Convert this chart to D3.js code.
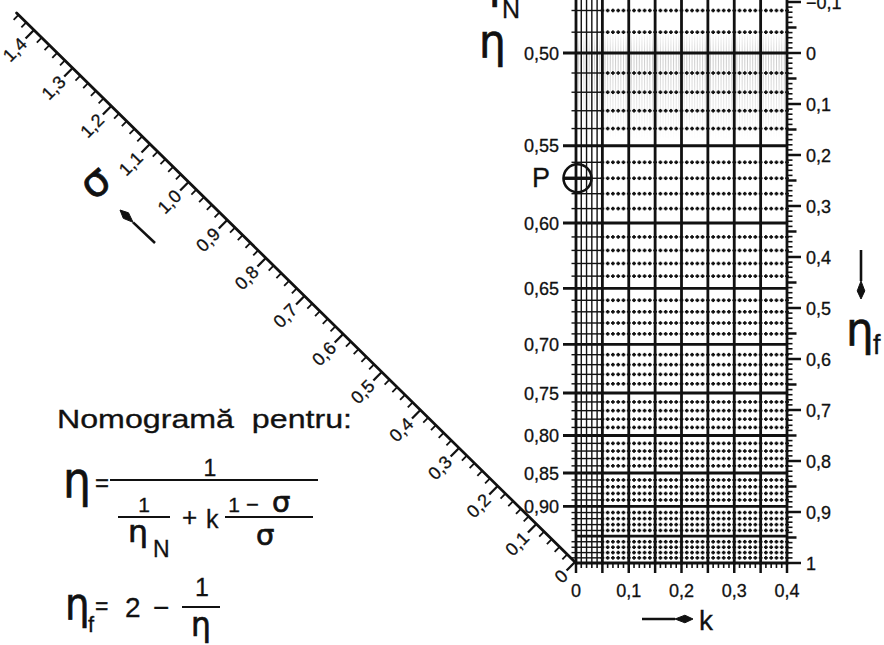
<!DOCTYPE html>
<html>
<head>
<meta charset="utf-8">
<script src="https://cdn.jsdelivr.net/npm/d3@7"></script>
<style>
  html, body { margin: 0; padding: 0; background: #fff; }
  svg { display: block; }
  svg text { stroke: #111; stroke-width: 0.3px; }
  svg text.greek { stroke-width: 0.7px; }
</style>
</head>
<body>
<svg id="chart" width="884" height="645"></svg>
<script>
// ---- scale values -------------------------------------------------------
// k (horizontal axis of the grid)
const kLabelValues = [0, 0.1, 0.2, 0.3, 0.4];
// η on the left edge of the grid (labelled every 0.05, ruled every 0.01)
const etaLabelValues = [0.50, 0.55, 0.60, 0.65, 0.70, 0.75, 0.80, 0.85, 0.90];
const etaRuleValues = d3.range(46, 101).map(i => i / 100);
// η_f on the right edge (linear scale)
const etaFLabelValues = [-0.1, 0, 0.1, 0.2, 0.3, 0.4, 0.5, 0.6, 0.7, 0.8, 0.9, 1];
// σ along the diagonal
const sigmaLabelValues = [0, 0.1, 0.2, 0.3, 0.4, 0.5, 0.6, 0.7, 0.8, 0.9, 1.0, 1.1, 1.2, 1.3, 1.4];
const sigmaEnd = 1.445;
// pivot point P on the η_N axis
const pivotEta = 0.57;

const FONT = "'Liberation Sans', Arial, sans-serif";
const GREEK = "'DejaVu Sans', sans-serif";
const INK = "#111";

const svg = d3.select("#chart");

// ---- scales -------------------------------------------------------------
const x = d3.scaleLinear().domain([0, 0.4]).range([576, 787]);
const yF = d3.scaleLinear().domain([0, 1]).range([53, 563]);
const yEta = eta => yF(2 - 1 / eta);
const sx = d3.scaleLinear().domain([0, 1.4]).range([575, 34]);
const sy = d3.scaleLinear().domain([0, 1.4]).range([562, 30]);

const gridTop = -6, gridBottom = yF(1);
const comma = (v, d) => v.toFixed(d).replace(".", ",").replace("-", "\u2212");
const near = (a, b) => Math.abs(a - b) < 1e-6;
const isFive = v => near(Math.round(v * 20) / 20, v);

// ---- faint vertical hatching in the upper band ----------------------------
const defs = svg.append("defs");
const grad = defs.append("linearGradient").attr("id", "fade")
  .attr("x1", 0).attr("y1", 0).attr("x2", 0).attr("y2", 1);
grad.append("stop").attr("offset", "0%").attr("stop-color", "#fff").attr("stop-opacity", 0);
grad.append("stop").attr("offset", "25%").attr("stop-color", "#fff").attr("stop-opacity", 1);
grad.append("stop").attr("offset", "100%").attr("stop-color", "#fff").attr("stop-opacity", 0);
const mask = defs.append("mask").attr("id", "hazeMask");
mask.append("rect").attr("x", 570).attr("y", 30).attr("width", 230).attr("height", 110).attr("fill", "url(#fade)");
svg.append("g").attr("mask", "url(#hazeMask)")
  .selectAll("line").data(d3.range(1, 80).map(i => i * 0.005)).join("line")
  .attr("x1", d => x(d)).attr("x2", d => x(d))
  .attr("y1", 30).attr("y2", 140)
  .attr("stroke", "#8a8a8a").attr("stroke-width", 0.9).attr("opacity", 0.5);

// ---- dotted minor mesh ----------------------------------------------------
const minorEta = etaRuleValues.filter(v => !isFive(v));
const kDots = d3.range(5, 41).map(i => i / 100);
const dots = [];
minorEta.forEach(e => kDots.forEach(k => dots.push({ k, e })));
const gDots = svg.append("g").attr("fill", INK);
gDots.selectAll("rect.h").data(dots).join("rect").attr("class", "h")
  .attr("x", d => x(d.k) - 1.9).attr("y", d => yEta(d.e) - 0.9)
  .attr("width", 3.8).attr("height", 1.8);
gDots.selectAll("rect.v").data(dots).join("rect").attr("class", "v")
  .attr("x", d => x(d.k) - 0.9).attr("y", d => yEta(d.e) - 1.8)
  .attr("width", 1.8).attr("height", 3.6);

// ---- solid fine ruling in the 0 … 0.05 strip -------------------------------
const gFine = svg.append("g").attr("stroke", INK).attr("stroke-width", 1.4);
gFine.selectAll("line.v").data([0.01, 0.02, 0.03, 0.04]).join("line").attr("class", "v")
  .attr("x1", d => x(d)).attr("x2", d => x(d))
  .attr("y1", gridTop).attr("y2", gridBottom);
gFine.selectAll("line.h").data(minorEta).join("line").attr("class", "h")
  .attr("x1", x(0) - 4.5).attr("x2", x(0.05))
  .attr("y1", d => yEta(d)).attr("y2", d => yEta(d));

// ---- heavy ruling ------------------------------------------------------------
const gHeavy = svg.append("g").attr("stroke", INK).attr("stroke-width", 2.8);
gHeavy.selectAll("line.v").data(d3.range(0, 9).map(i => i * 0.05)).join("line").attr("class", "v")
  .attr("x1", d => x(d)).attr("x2", d => x(d))
  .attr("y1", gridTop).attr("y2", gridBottom + 1.4);
gHeavy.selectAll("line.h").data(etaRuleValues.filter(isFive)).join("line").attr("class", "h")
  .attr("x1", d => (etaLabelValues.some(v => near(v, d)) ? x(0) - 13 : x(0)))
  .attr("x2", x(0.4))
  .attr("y1", d => yEta(d)).attr("y2", d => yEta(d));

// ---- k ticks and labels -------------------------------------------------------
const gK = svg.append("g").attr("stroke", INK);
gK.selectAll("line").data(d3.range(0, 41).map(i => i / 100)).join("line")
  .attr("x1", d => x(d)).attr("x2", d => x(d))
  .attr("y1", gridBottom).attr("y2", d => gridBottom + (isFive(d) ? 10 : 5))
  .attr("stroke-width", d => (isFive(d) ? 2.5 : 1.6));
svg.append("g").selectAll("text").data(kLabelValues).join("text")
  .attr("x", d => x(d)).attr("y", 597)
  .attr("text-anchor", "middle")
  .attr("font-family", FONT).attr("font-size", 18).attr("fill", INK)
  .text(d => (d === 0 ? "0" : comma(d, 1)));

// ---- η labels (left) -----------------------------------------------------------
svg.append("g").selectAll("text").data(etaLabelValues).join("text")
  .attr("x", 559).attr("y", d => yEta(d) + 6.5)
  .attr("text-anchor", "end")
  .attr("font-family", FONT).attr("font-size", 18).attr("fill", INK)
  .text(d => comma(d, 2));

// ---- η_f ticks and labels (right) -------------------------------------------------
const fTicks = d3.range(-11, 101).map(i => i / 100);
svg.append("g").attr("stroke", INK).selectAll("line").data(fTicks).join("line")
  .attr("x1", x(0.4)).attr("y1", d => yF(d)).attr("y2", d => yF(d))
  .attr("x2", d => {
    const i = Math.round(d * 100);
    return x(0.4) + (i % 10 === 0 ? 14 : i % 5 === 0 ? 9.5 : 5.5);
  })
  .attr("stroke-width", d => (Math.round(d * 100) % 5 === 0 ? 2.5 : 1.6));
svg.append("g").selectAll("text").data(etaFLabelValues).join("text")
  .attr("x", 806).attr("y", d => yF(d) + 6.5)
  .attr("font-family", FONT).attr("font-size", 18).attr("fill", INK)
  .text(d => (d === 0 ? "0" : d === 1 ? "1" : comma(d, 1)));

// ---- σ scale on the diagonal ------------------------------------------------------
const dirX = sx(0) - sx(1), dirY = sy(0) - sy(1);
const len = Math.hypot(dirX, dirY);
const nx = -dirY / len, ny = dirX / len; // unit normal pointing down-left
const gS = svg.append("g");
gS.append("line")
  .attr("x1", x(0)).attr("y1", gridBottom)
  .attr("x2", sx(sigmaEnd)).attr("y2", sy(sigmaEnd))
  .attr("stroke", INK).attr("stroke-width", 2.8).attr("stroke-linecap", "round");
const sTicks = d3.range(0, 73).map(i => i / 50);
gS.selectAll("line.t").data(sTicks).join("line").attr("class", "t")
  .attr("x1", d => sx(d)).attr("y1", d => sy(d))
  .attr("x2", d => sx(d) + nx * (Math.round(d * 50) % 5 === 0 ? 12 : 7))
  .attr("y2", d => sy(d) + ny * (Math.round(d * 50) % 5 === 0 ? 12 : 7))
  .attr("stroke", INK)
  .attr("stroke-width", d => (Math.round(d * 50) % 5 === 0 ? 2.3 : 1.8));
gS.selectAll("text").data(sigmaLabelValues).join("text")
  .attr("transform", d => `translate(${sx(d) + nx * 15},${sy(d) + ny * 15}) rotate(-45)`)
  .attr("text-anchor", "end").attr("dy", "0.36em")
  .attr("font-family", FONT).attr("font-size", 18).attr("fill", INK)
  .text(d => (d === 0 ? "0" : comma(d, 1)));

// ---- pivot P ----------------------------------------------------------------------
const py = yEta(pivotEta);
svg.append("circle").attr("cx", x(0) + 1.5).attr("cy", py).attr("r", 14)
  .attr("fill", "none").attr("stroke", INK).attr("stroke-width", 2.6);
svg.append("line").attr("x1", x(0) - 12).attr("x2", x(0) + 15)
  .attr("y1", py).attr("y2", py).attr("stroke", INK).attr("stroke-width", 3.4);
svg.append("text").attr("x", 532).attr("y", py + 9)
  .attr("font-family", FONT).attr("font-size", 27).attr("fill", INK).text("P");

// ---- text helpers -------------------------------------------------------------------
function put(xp, yp, s, size, family, extra) {
  const t = svg.append("text").attr("x", xp).attr("y", yp)
    .attr("font-family", family || FONT).attr("font-size", size).attr("fill", INK).text(s);
  if (family === GREEK) t.attr("class", "greek");
  if (extra) Object.entries(extra).forEach(([k, v]) => t.attr(k, v));
  return t;
}
// Greek letter, optionally narrowed or widened horizontally
function greek(xp, yp, s, size, scaleX, extra) {
  const t = svg.append("text")
    .attr("transform", `translate(${xp},${yp}) scale(${scaleX || 1},1)`)
    .attr("class", "greek")
    .attr("font-family", GREEK).attr("font-size", size).attr("fill", INK).text(s);
  if (extra) Object.entries(extra).forEach(([k, v]) => t.attr(k, v));
  return t;
}
function bar(x1, x2, yb, w) {
  svg.append("line").attr("x1", x1).attr("x2", x2).attr("y1", yb).attr("y2", yb)
    .attr("stroke", INK).attr("stroke-width", w || 2.2);
}
function arrow(x1, y1, x2, y2) {
  const a = Math.atan2(y2 - y1, x2 - x1);
  const L = 18, W = 3.8;
  const bx = x2 - Math.cos(a) * L, by = y2 - Math.sin(a) * L;
  svg.append("line").attr("x1", x1).attr("y1", y1).attr("x2", bx).attr("y2", by)
    .attr("stroke", INK).attr("stroke-width", 2.6);
  const m = L * 0.45;
  const cx = x2 - Math.cos(a) * m, cy = y2 - Math.sin(a) * m;
  const px = -Math.sin(a) * W, pyy = Math.cos(a) * W;
  svg.append("path")
    .attr("d", `M${x2},${y2} L${cx + px},${cy + pyy} L${bx},${by} L${cx - px},${cy - pyy} Z`)
    .attr("fill", INK).attr("stroke", INK).attr("stroke-width", 1);
}

// ---- axis titles ----------------------------------------------------------------
// η_N at the top of the left scale
greek(472, -3, "\u03B7", 50, 0.9);
put(502, 18, "N", 25);
// η beside the left scale
greek(479, 57, "\u03B7", 46, 0.92);
// η_f on the right with its arrow
arrow(861, 250, 861, 299);
greek(846, 345, "\u03B7", 46, 0.95);
put(873, 354, "f", 27);
// k with its arrow
arrow(642, 619, 693, 619);
put(699, 630, "k", 28);
// σ with its arrow
greek(0, 0, "\u03C3", 42, 1, { transform: "translate(96,184) rotate(-40) translate(-13,12)" });
arrow(155, 243, 120, 210);

// ---- formulas -----------------------------------------------------------------------
put(57, 428, "Nomogramă\u00A0\u00A0pentru:", 25, FONT, { textLength: 295, lengthAdjust: "spacingAndGlyphs" });

// η = 1 / (1/η_N + k (1−σ)/σ)
greek(63, 497, "\u03B7", 50, 0.88);
put(95, 491, "=", 24);
bar(110, 318, 480);
put(210, 476, "1", 23, FONT, { "text-anchor": "middle" });
put(144, 512, "1", 21, FONT, { "text-anchor": "middle" });
bar(118, 170, 517);
greek(128, 542, "\u03B7", 30, 1.05);
put(153, 557, "N", 23);
put(182, 526, "+", 26);
put(206, 528, "k", 25);
put(234, 512, "1", 21, FONT, { "text-anchor": "middle" });
put(246, 512, "\u2212", 22);
greek(272, 512, "\u03C3", 29);
bar(225, 313, 517);
greek(256, 545, "\u03C3", 29);

// η_f = 2 − 1/η
greek(65, 619, "\u03B7", 44, 0.88);
put(88, 632, "f", 22);
put(95, 614, "=", 23);
put(125, 617, "2", 28);
put(153, 617, "\u2212", 28);
bar(182, 220, 607);
put(202, 596, "1", 25, FONT, { "text-anchor": "middle" });
greek(191, 636, "\u03B7", 33, 0.95);
</script>
</body>
</html>
